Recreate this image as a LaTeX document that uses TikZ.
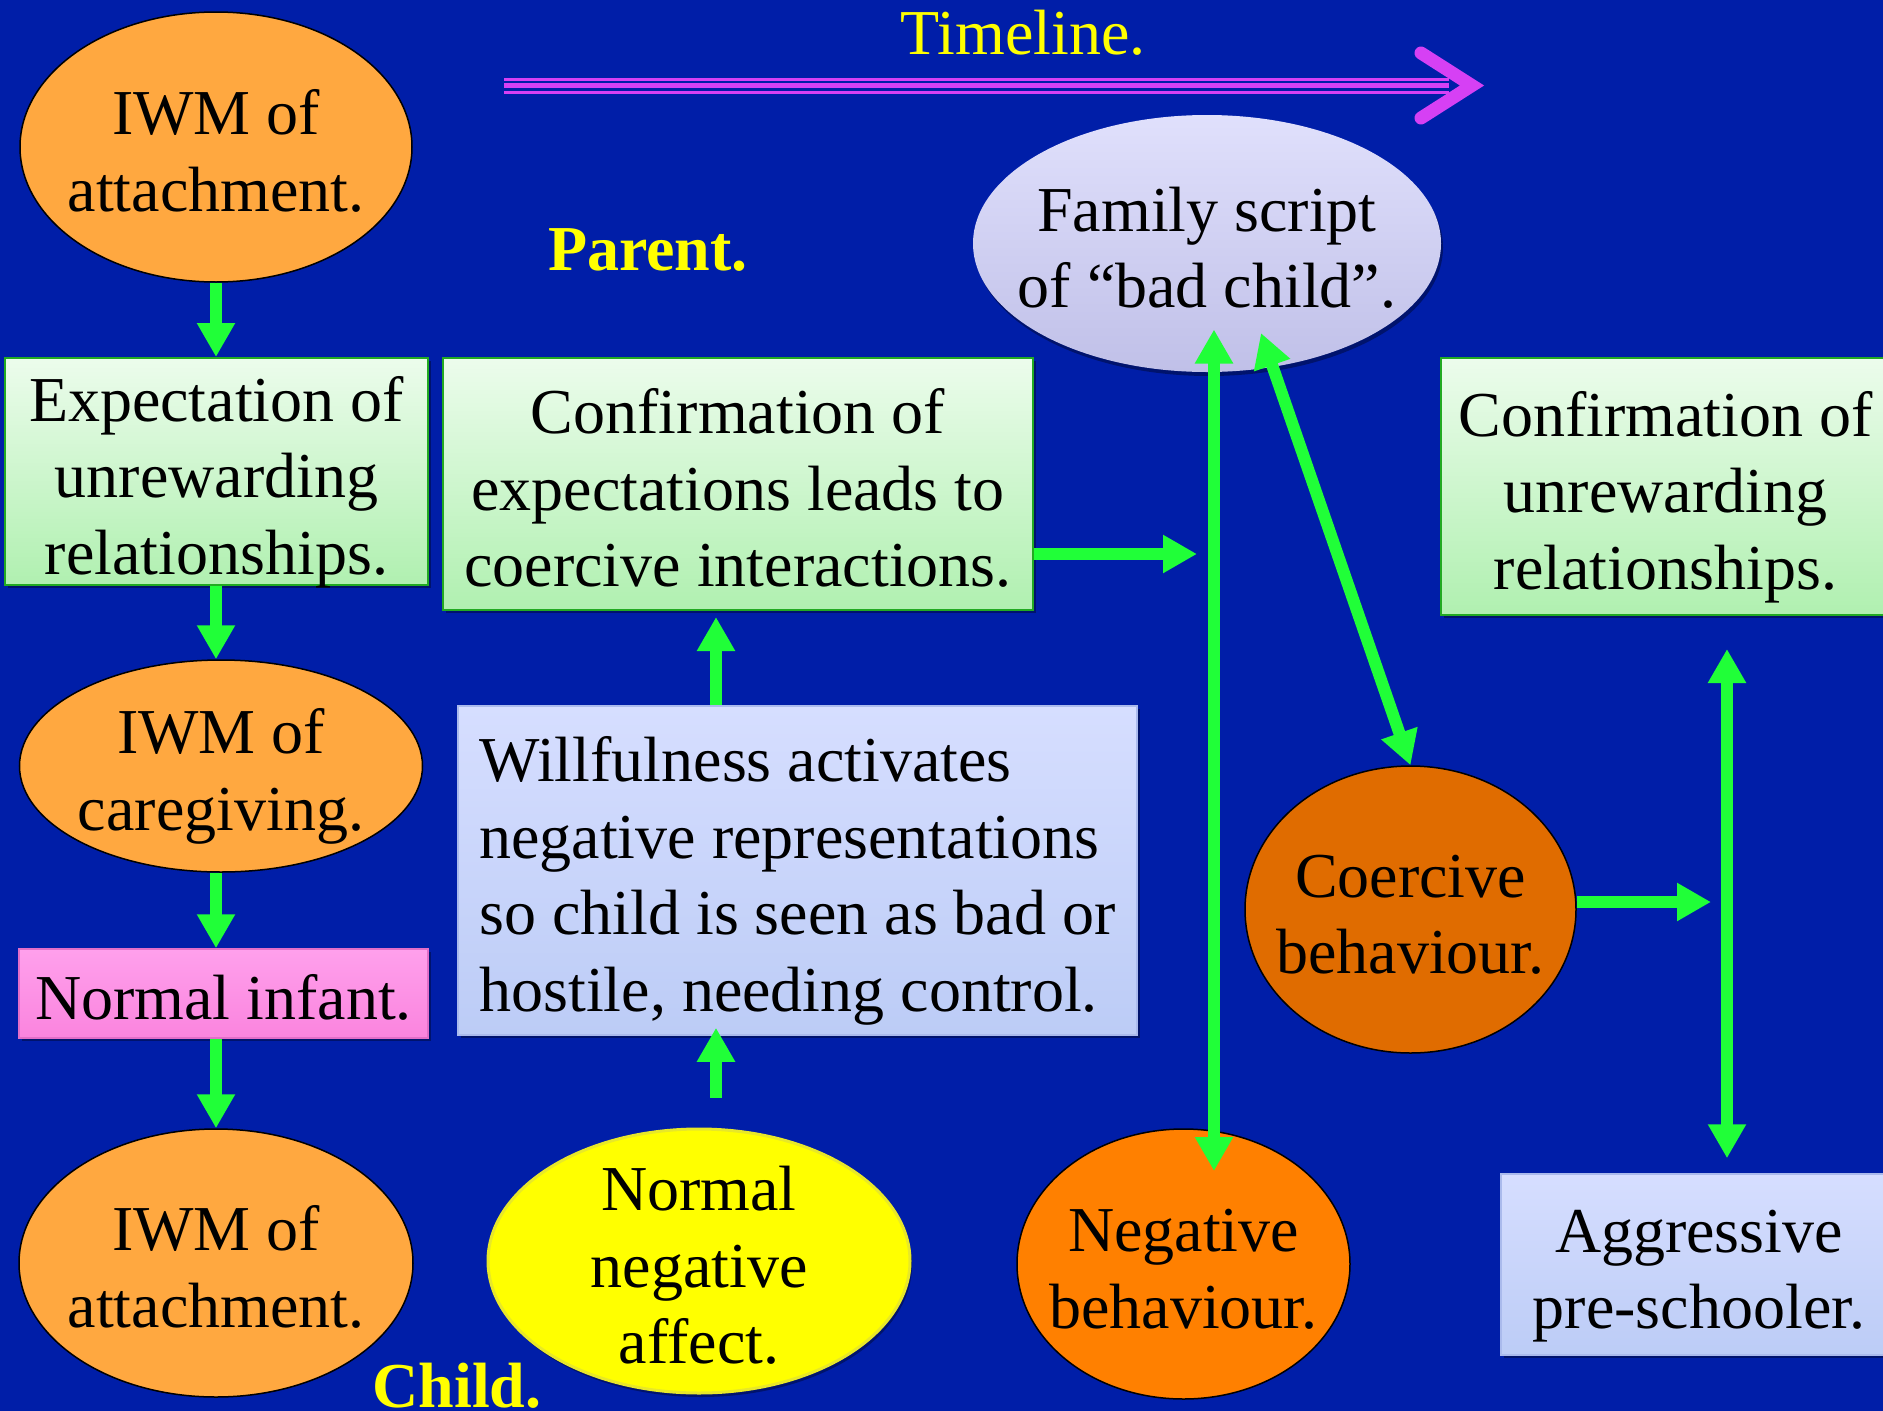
\documentclass[tikz,border=0pt]{standalone}
\usepackage{fontspec}
\setmainfont{Liberation Serif}
\usetikzlibrary{shapes.geometric,arrows.meta,shadows}

\definecolor{bgblue}{RGB}{0,30,168}
\definecolor{orangelt}{RGB}{255,168,64}
\definecolor{orangemid}{RGB}{255,128,0}
\definecolor{orangedk}{RGB}{224,108,0}
\definecolor{greentop}{RGB}{236,252,236}
\definecolor{greenbot}{RGB}{176,240,176}
\definecolor{greenedge}{RGB}{34,170,34}
\definecolor{lavtop}{RGB}{214,222,255}
\definecolor{lavbot}{RGB}{188,204,246}
\definecolor{lavedge}{RGB}{170,186,236}
\definecolor{famtop}{RGB}{224,224,252}
\definecolor{fambot}{RGB}{192,192,232}
\definecolor{pinktop}{RGB}{255,160,236}
\definecolor{pinkbot}{RGB}{250,132,222}
\definecolor{pinkedge}{RGB}{226,110,200}
\definecolor{linkgreen}{RGB}{32,255,56}
\definecolor{tlpurple}{RGB}{214,64,244}
\definecolor{lblyellow}{RGB}{255,255,0}
\definecolor{yellowedge}{RGB}{232,232,40}

% struts that give every text block the same height and depth
\newcommand{\nodetop}{\rule{0pt}{66pt}}
\newcommand{\nodebot}{\rule[-14pt]{0pt}{14pt}}

\tikzset{
  txt/.style={font=\fontsize{64}{76.5}\selectfont, align=center, text=black},
  oval/.style={txt, ellipse, draw=black, line width=1.5pt, inner xsep=-40pt, inner ysep=-30pt},
  softoval/.style={txt, ellipse, inner xsep=-40pt, inner ysep=-30pt,
    drop shadow={shadow xshift=2pt, shadow yshift=-4pt, opacity=0.35, fill=black}},
  box/.style={txt, rectangle, inner xsep=0pt, inner ysep=-8pt,
    drop shadow={shadow xshift=3pt, shadow yshift=-3pt, opacity=0.35, fill=black}},
  greenbox/.style={box, draw=greenedge, line width=2pt,
    top color=greentop, bottom color=greenbot},
  lavbox/.style={box, draw=lavedge, line width=1.5pt,
    top color=lavtop, bottom color=lavbot},
  pinkbox/.style={box, draw=pinkedge, line width=1.5pt,
    top color=pinktop, bottom color=pinkbot},
  lbl/.style={font=\fontsize{64}{75}\selectfont, text=lblyellow, inner sep=0pt},
  boldlbl/.style={font=\fontsize{64}{75}\selectfont\bfseries, text=lblyellow, inner sep=0pt},
  link/.style={draw=linkgreen, line width=12pt, -{Triangle[length=34pt,width=36pt]}},
  dlink/.style={draw=linkgreen, line width=12pt,
    {Triangle[length=34pt,width=36pt]}-{Triangle[length=34pt,width=36pt]}},
  tline/.style={draw=tlpurple},
}

\begin{document}
\begin{tikzpicture}[x=1pt,y=-1pt]
% canvas
\fill[bgblue] (0,0) rectangle (1883,1411);
\useasboundingbox (0,0) rectangle (1883,1411);
\clip (0,0) rectangle (1883,1411);

% left column: parent's history down to the child
\node[oval, fill=orangelt, minimum width=392pt, minimum height=270pt] (att1) at (216,147) {\nodetop IWM of\\attachment.\nodebot};
\node[greenbox, minimum width=423pt, minimum height=227pt] (exp) at (216.5,471.5) {\nodetop Expectation of\\unrewarding\\relationships.\nodebot};
\node[oval, fill=orangelt, minimum width=403pt, minimum height=212pt] (care) at (221,766) {\nodetop IWM of\\caregiving.\nodebot};
\node[pinkbox, minimum width=409pt, minimum height=89pt] (inf) at (223.5,993.5) {\nodetop Normal infant.\nodebot};
\node[oval, fill=orangelt, minimum width=394pt, minimum height=268pt] (att2) at (216,1263) {\nodetop IWM of\\attachment.\nodebot};

% middle column
\node[greenbox, minimum width=590pt, minimum height=252pt] (conf) at (738,484) {\nodetop Confirmation of\\expectations leads to\\coercive interactions.\nodebot};
\node[lavbox, align=left, minimum width=679pt, minimum height=329pt] (will) at (797.5,870.5) {\nodetop Willfulness activates\\negative representations\\so child is seen as bad or\\hostile, needing control.\nodebot};
\node[softoval, draw=yellowedge, line width=3pt, fill=lblyellow, minimum width=422pt, minimum height=264pt] (nna) at (699,1261) {\nodetop Normal\\negative\\affect.\nodebot};

% right part
\node[softoval, top color=famtop, bottom color=fambot, minimum width=468pt, minimum height=257pt] (fam) at (1207,243.5) {\nodetop Family script\\of “bad child”.\nodebot};
\node[oval, fill=orangemid, minimum width=333pt, minimum height=270pt] (neg) at (1183.5,1264) {\nodetop Negative\\behaviour.\nodebot};
\node[oval, fill=orangedk, minimum width=331pt, minimum height=287pt] (coer) at (1410.5,909.5) {\nodetop Coercive\\behaviour.\nodebot};
\node[greenbox, minimum width=449pt, minimum height=257pt] (conf2) at (1665.5,486.5) {\nodetop Confirmation of\\unrewarding\\relationships.\nodebot};
\node[lavbox, minimum width=396pt, minimum height=181pt] (aggr) at (1699,1264.5) {\nodetop Aggressive\\pre-schooler.\nodebot};

% headings
\node[lbl, anchor=base] (tl) at (1023,54) {Timeline.};
\node[boldlbl, anchor=base] (par) at (648,270) {Parent.};
\node[boldlbl, anchor=base] (chd) at (457,1407) {Child.};

% timeline arrow
\path (504,85.5) coordinate (tls) (1449,85.5) coordinate (tle);
\draw[tline, line width=3pt] ([yshift=6.5pt]tls) -- ([yshift=6.5pt]tle);
\draw[tline, line width=5pt] (tls) -- (tle);
\draw[tline, line width=3pt] ([yshift=-6.5pt]tls) -- ([yshift=-6.5pt]tle);
\path (1421,53) coordinate (chv1) (1472,85.5) coordinate (chvtip) (1421,118) coordinate (chv2);
\draw[tline, line width=13pt, line cap=round, line join=miter] (chv1) -- (chvtip) -- (chv2);

% left column connectors
\draw[link] (att1.south) -- (att1.south |- exp.north);
\draw[link] (att1.south |- exp.south) -- (att1.south |- care.north);
\draw[link] (att1.south |- care.south) -- (att1.south |- inf.north);
\draw[link] (att1.south |- inf.south) -- (att2.north);

% middle connectors
\path (716,0) coordinate (mx);
\draw[link, shorten >=6pt] (will.north -| mx) -- (conf.south -| mx);
\draw[link, shorten <=30pt, shorten >=-8pt] (nna.north -| mx) -- (will.south -| mx);
\path (1197,554) coordinate (confend);
\draw[link] (conf.east |- confend) -- (confend);

% right connectors
\path (1214,0) coordinate (vx);
\draw[dlink, shorten <=86pt, shorten >=93pt] (fam.center -| vx) -- (neg.center -| vx);
\path (1261,333) coordinate (famfoot);
\draw[dlink] (famfoot) -- (coer.north);
\path (1711,902) coordinate (coerend);
\draw[link] (coer.east |- coerend) -- (coerend);
\path (1727,0) coordinate (rvx);
\draw[dlink, shorten <=33pt, shorten >=15pt] (conf2.south -| rvx) -- (aggr.north -| rvx);
\end{tikzpicture}
\end{document}
